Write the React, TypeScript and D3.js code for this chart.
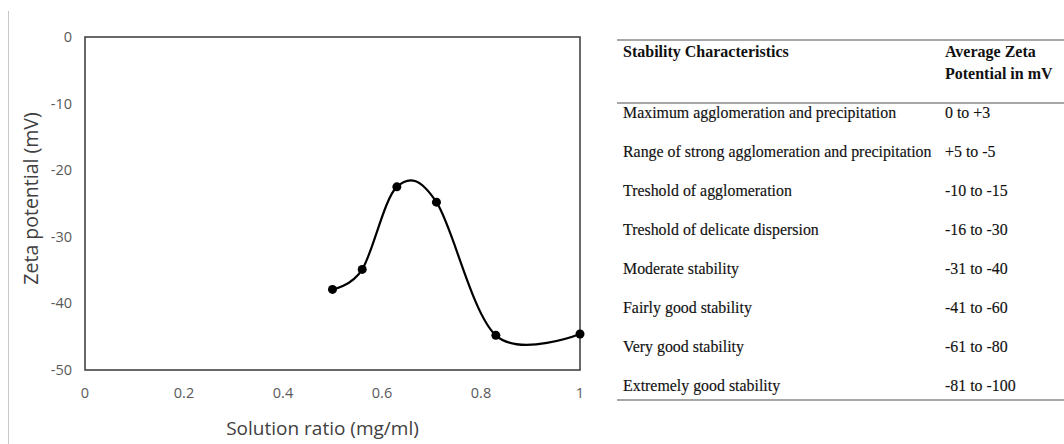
import React, { useRef, useEffect } from "react";
import * as d3 from "d3";

// measured points (solution ratio vs zeta potential)
const ratio = [0.5, 0.56, 0.63, 0.71, 0.83, 1.0];
const zeta = [-37.9, -34.9, -22.5, -24.8, -44.8, -44.6];

const xTicks = [0, 0.2, 0.4, 0.6, 0.8, 1];
const yTicks = [0, -10, -20, -30, -40, -50];

const characteristics = [
	"Maximum agglomeration and precipitation",
	"Range of strong agglomeration and precipitation",
	"Treshold of agglomeration",
	"Treshold of delicate dispersion",
	"Moderate stability",
	"Fairly good stability",
	"Very good stability",
	"Extremely good stability",
];
const zetaRanges = [
	"0 to +3",
	"+5 to -5",
	"-10 to -15",
	"-16 to -30",
	"-31 to -40",
	"-41 to -60",
	"-61 to -80",
	"-81 to -100",
];

const App = () => {
	const ref = useRef<SVGSVGElement>(null);

	const layout = {
		width: 1064,
		height: 444,
		plotLeft: 85,
		plotRight: 580,
		plotTop: 37,
		plotBottom: 370,
	};

	useEffect(() => {
		const svg = d3.select(ref.current);
		svg.selectAll("*").remove();

		const xScale = d3.scaleLinear().domain([0, 1]).range([layout.plotLeft, layout.plotRight]);
		const yScale = d3.scaleLinear().domain([-50, 0]).range([layout.plotBottom, layout.plotTop]);

		// faint frame line at far left
		svg.append("line")
			.attr("x1", 8.5).attr("x2", 8.5)
			.attr("y1", 11).attr("y2", layout.height)
			.attr("stroke", "#c8c8c8")
			.attr("stroke-width", 1);

		svg.append("rect")
			.attr("x", layout.plotLeft)
			.attr("y", layout.plotTop)
			.attr("width", layout.plotRight - layout.plotLeft)
			.attr("height", layout.plotBottom - layout.plotTop)
			.attr("fill", "none")
			.attr("stroke", "#444")
			.attr("stroke-width", 1.6);

		const tickFont = "'Open Sans', sans-serif";

		svg.append("g").selectAll("text")
			.data(yTicks)
			.join("text")
			.attr("x", layout.plotLeft - 13)
			.attr("y", d => yScale(d))
			.attr("dy", "0.35em")
			.attr("text-anchor", "end")
			.attr("font-family", tickFont)
			.attr("font-size", 14.5)
			.attr("fill", "#5a5a5a")
			.text(d => `${d}`);

		svg.append("g").selectAll("text")
			.data(xTicks)
			.join("text")
			.attr("x", d => xScale(d))
			.attr("y", layout.plotBottom + 23)
			.attr("dy", "0.35em")
			.attr("text-anchor", "middle")
			.attr("font-family", tickFont)
			.attr("font-size", 14.5)
			.attr("fill", "#5a5a5a")
			.text(d => `${d}`);

		svg.append("text")
			.attr("transform", `translate(38, ${(layout.plotTop + layout.plotBottom) / 2 - 5}) rotate(-90)`)
			.attr("text-anchor", "middle")
			.attr("font-family", tickFont)
			.attr("font-size", 19.5)
			.attr("fill", "#404040")
			.text("Zeta potential (mV)");

		svg.append("text")
			.attr("x", (layout.plotLeft + layout.plotRight) / 2 - 10)
			.attr("y", 435)
			.attr("text-anchor", "middle")
			.attr("font-family", tickFont)
			.attr("font-size", 19)
			.attr("fill", "#404040")
			.text("Solution ratio (mg/ml)");

		const pts = ratio.map((r, i) => [r, zeta[i]] as [number, number]);

		const line = d3.line<[number, number]>()
			.x(d => xScale(d[0]))
			.y(d => yScale(d[1]))
			.curve(d3.curveCardinal.tension(0));

		svg.append("path")
			.datum(pts)
			.attr("d", line)
			.attr("fill", "none")
			.attr("stroke", "black")
			.attr("stroke-width", 2.2);

		svg.append("g").selectAll("circle")
			.data(pts)
			.join("circle")
			.attr("cx", d => xScale(d[0]))
			.attr("cy", d => yScale(d[1]))
			.attr("r", 4.5)
			.attr("fill", "black");

		// stability table
		const tLeft = 617;
		const tRight = 1064;
		const col1 = 623;
		const col2 = 945;
		const serif = "'Liberation Serif', 'Times New Roman', serif";

		const rowY = d3.scaleLinear().domain([0, characteristics.length - 1]).range([118, 391]);

		const table = svg.append("g");
		[40, 103, 400].forEach(y => {
			table.append("line")
				.attr("x1", tLeft).attr("x2", tRight)
				.attr("y1", y).attr("y2", y)
				.attr("stroke", "#8a8a8a")
				.attr("stroke-width", 1.6);
		});

		const header = [
			{ x: col1, y: 57, t: "Stability Characteristics" },
			{ x: col2, y: 57, t: "Average Zeta" },
			{ x: col2, y: 79, t: "Potential in mV" },
		];
		table.selectAll(".hd")
			.data(header)
			.join("text")
			.attr("class", "hd")
			.attr("x", d => d.x)
			.attr("y", d => d.y)
			.attr("font-family", serif)
			.attr("font-weight", "bold")
			.attr("font-size", 16)
			.attr("fill", "#111")
			.text(d => d.t);

		table.selectAll(".c1")
			.data(characteristics)
			.join("text")
			.attr("class", "c1")
			.attr("x", col1)
			.attr("y", (d, i) => rowY(i))
			.attr("font-family", serif)
			.attr("font-size", 15.9)
			.attr("fill", "#111")
			.attr("stroke", "#111")
			.attr("stroke-width", 0.15)
			.text(d => d);

		table.selectAll(".c2")
			.data(zetaRanges)
			.join("text")
			.attr("class", "c2")
			.attr("x", col2)
			.attr("y", (d, i) => rowY(i))
			.attr("font-family", serif)
			.attr("font-size", 15.9)
			.attr("fill", "#111")
			.attr("stroke", "#111")
			.attr("stroke-width", 0.15)
			.text(d => d);
	}, []);

	return (
		<svg
			ref={ref}
			width={layout.width}
			height={layout.height}
			style={{ position: "absolute", left: 0, top: 0, background: "white" }}
		/>
	);
};

export default App;
